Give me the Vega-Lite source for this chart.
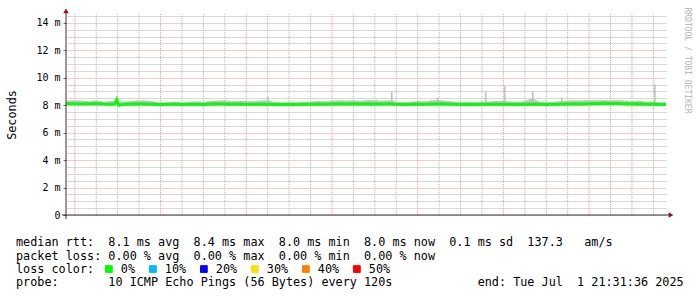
{
  "$schema": "https://vega.github.io/schema/vega-lite/v6.json",
  "width": 600,
  "height": 201,
  "autosize": "none",
  "padding": {"left": 66, "top": 14, "right": 31, "bottom": 82},
  "background": "white",
  "config": {"view": {"stroke": null}, "font": "DejaVu Sans Mono"},
  "title": {
    "text": [
      "median\u00a0rtt:\u00a0\u00a08.1\u00a0ms\u00a0avg\u00a0\u00a08.4\u00a0ms\u00a0max\u00a0\u00a08.0\u00a0ms\u00a0min\u00a0\u00a08.0\u00a0ms\u00a0now\u00a0\u00a00.1\u00a0ms\u00a0sd\u00a0\u00a0137.3\u00a0\u00a0\u00a0am/s",
      "packet\u00a0loss:\u00a00.00\u00a0%\u00a0avg\u00a0\u00a00.00\u00a0%\u00a0max\u00a0\u00a00.00\u00a0%\u00a0min\u00a0\u00a00.00\u00a0%\u00a0now"
    ],
    "subtitle": "probe:\u00a0\u00a0\u00a0\u00a0\u00a0\u00a0\u00a010\u00a0ICMP\u00a0Echo\u00a0Pings\u00a0(56\u00a0Bytes)\u00a0every\u00a0120s\u00a0\u00a0\u00a0\u00a0\u00a0\u00a0\u00a0\u00a0\u00a0\u00a0\u00a0\u00a0end:\u00a0Tue\u00a0Jul\u00a0\u00a01\u00a021:31:36\u00a02025",
    "orient": "bottom",
    "anchor": "start",
    "frame": "group",
    "font": "DejaVu Sans Mono",
    "fontSize": 11.8,
    "fontWeight": "normal",
    "color": "black",
    "lineHeight": 14.3,
    "subtitleFont": "DejaVu Sans Mono",
    "subtitleFontSize": 11.8,
    "subtitleFontWeight": "normal",
    "subtitleColor": "black",
    "subtitleLineHeight": 14.3,
    "subtitlePadding": 14.3,
    "dx": -50,
    "offset": -39,
    "baseline": "top"
  },
  "datasets": {
    "vgrid": [
      {"t": "2025-06-25T00:00:00Z", "kind": "day"},
      {"t": "2025-06-25T06:00:00Z", "kind": "quarter"},
      {"t": "2025-06-25T12:00:00Z", "kind": "quarter"},
      {"t": "2025-06-25T18:00:00Z", "kind": "quarter"},
      {"t": "2025-06-26T00:00:00Z", "kind": "day"},
      {"t": "2025-06-26T06:00:00Z", "kind": "quarter"},
      {"t": "2025-06-26T12:00:00Z", "kind": "quarter"},
      {"t": "2025-06-26T18:00:00Z", "kind": "quarter"},
      {"t": "2025-06-27T00:00:00Z", "kind": "day"},
      {"t": "2025-06-27T06:00:00Z", "kind": "quarter"},
      {"t": "2025-06-27T12:00:00Z", "kind": "quarter"},
      {"t": "2025-06-27T18:00:00Z", "kind": "quarter"},
      {"t": "2025-06-28T00:00:00Z", "kind": "day"},
      {"t": "2025-06-28T06:00:00Z", "kind": "quarter"},
      {"t": "2025-06-28T12:00:00Z", "kind": "quarter"},
      {"t": "2025-06-28T18:00:00Z", "kind": "quarter"},
      {"t": "2025-06-29T00:00:00Z", "kind": "day"},
      {"t": "2025-06-29T06:00:00Z", "kind": "quarter"},
      {"t": "2025-06-29T12:00:00Z", "kind": "quarter"},
      {"t": "2025-06-29T18:00:00Z", "kind": "quarter"},
      {"t": "2025-06-30T00:00:00Z", "kind": "day"},
      {"t": "2025-06-30T06:00:00Z", "kind": "quarter"},
      {"t": "2025-06-30T12:00:00Z", "kind": "quarter"},
      {"t": "2025-06-30T18:00:00Z", "kind": "quarter"},
      {"t": "2025-07-01T00:00:00Z", "kind": "day"},
      {"t": "2025-07-01T06:00:00Z", "kind": "quarter"},
      {"t": "2025-07-01T12:00:00Z", "kind": "quarter"},
      {"t": "2025-07-01T18:00:00Z", "kind": "quarter"}
    ],
    "smoke": [
      {"t": "2025-06-24T21:31:36Z", "med": 8.1, "lo": 7.97, "hi": 8.32, "loss": "0%"},
      {"t": "2025-06-24T22:00:00Z", "med": 8.1, "lo": 7.97, "hi": 8.34, "loss": "0%"},
      {"t": "2025-06-25T00:00:00Z", "med": 8.1, "lo": 7.97, "hi": 8.36, "loss": "0%"},
      {"t": "2025-06-25T02:00:00Z", "med": 8.08, "lo": 7.95, "hi": 8.34, "loss": "0%"},
      {"t": "2025-06-25T04:00:00Z", "med": 8.1, "lo": 7.97, "hi": 8.26, "loss": "0%"},
      {"t": "2025-06-25T06:00:00Z", "med": 8.12, "lo": 7.98, "hi": 8.36, "loss": "0%"},
      {"t": "2025-06-25T08:00:00Z", "med": 8.08, "lo": 7.95, "hi": 8.24, "loss": "0%"},
      {"t": "2025-06-25T10:00:00Z", "med": 8.06, "lo": 7.94, "hi": 8.3, "loss": "0%"},
      {"t": "2025-06-25T11:15:00Z", "med": 8.1, "lo": 7.96, "hi": 8.34, "loss": "0%"},
      {"t": "2025-06-25T11:45:00Z", "med": 8.4, "lo": 8.0, "hi": 8.48, "loss": "0%"},
      {"t": "2025-06-25T12:20:00Z", "med": 8.0, "lo": 7.92, "hi": 8.24, "loss": "0%"},
      {"t": "2025-06-25T14:00:00Z", "med": 8.06, "lo": 7.95, "hi": 8.26, "loss": "0%"},
      {"t": "2025-06-25T16:00:00Z", "med": 8.08, "lo": 7.96, "hi": 8.32, "loss": "0%"},
      {"t": "2025-06-25T18:00:00Z", "med": 8.1, "lo": 7.97, "hi": 8.36, "loss": "0%"},
      {"t": "2025-06-25T20:00:00Z", "med": 8.08, "lo": 7.96, "hi": 8.34, "loss": "0%"},
      {"t": "2025-06-25T22:00:00Z", "med": 8.06, "lo": 7.94, "hi": 8.28, "loss": "0%"},
      {"t": "2025-06-26T00:00:00Z", "med": 8.05, "lo": 7.94, "hi": 8.18, "loss": "0%"},
      {"t": "2025-06-26T02:00:00Z", "med": 8.06, "lo": 7.94, "hi": 8.22, "loss": "0%"},
      {"t": "2025-06-26T04:00:00Z", "med": 8.08, "lo": 7.95, "hi": 8.24, "loss": "0%"},
      {"t": "2025-06-26T06:00:00Z", "med": 8.04, "lo": 7.93, "hi": 8.2, "loss": "0%"},
      {"t": "2025-06-26T08:00:00Z", "med": 8.06, "lo": 7.94, "hi": 8.24, "loss": "0%"},
      {"t": "2025-06-26T10:00:00Z", "med": 8.07, "lo": 7.95, "hi": 8.28, "loss": "0%"},
      {"t": "2025-06-26T12:00:00Z", "med": 8.05, "lo": 7.94, "hi": 8.24, "loss": "0%"},
      {"t": "2025-06-26T14:00:00Z", "med": 8.08, "lo": 7.96, "hi": 8.32, "loss": "0%"},
      {"t": "2025-06-26T16:00:00Z", "med": 8.1, "lo": 7.97, "hi": 8.34, "loss": "0%"},
      {"t": "2025-06-26T18:00:00Z", "med": 8.08, "lo": 7.96, "hi": 8.36, "loss": "0%"},
      {"t": "2025-06-26T20:00:00Z", "med": 8.06, "lo": 7.95, "hi": 8.3, "loss": "0%"},
      {"t": "2025-06-26T22:00:00Z", "med": 8.08, "lo": 7.96, "hi": 8.33, "loss": "0%"},
      {"t": "2025-06-27T00:00:00Z", "med": 8.07, "lo": 7.95, "hi": 8.3, "loss": "0%"},
      {"t": "2025-06-27T02:00:00Z", "med": 8.06, "lo": 7.94, "hi": 8.29, "loss": "0%"},
      {"t": "2025-06-27T04:00:00Z", "med": 8.08, "lo": 7.95, "hi": 8.34, "loss": "0%"},
      {"t": "2025-06-27T06:00:00Z", "med": 8.07, "lo": 7.95, "hi": 8.36, "loss": "0%"},
      {"t": "2025-06-27T08:00:00Z", "med": 8.05, "lo": 7.94, "hi": 8.24, "loss": "0%"},
      {"t": "2025-06-27T10:00:00Z", "med": 8.04, "lo": 7.93, "hi": 8.2, "loss": "0%"},
      {"t": "2025-06-27T12:00:00Z", "med": 8.06, "lo": 7.94, "hi": 8.22, "loss": "0%"},
      {"t": "2025-06-27T14:00:00Z", "med": 8.05, "lo": 7.94, "hi": 8.21, "loss": "0%"},
      {"t": "2025-06-27T16:00:00Z", "med": 8.07, "lo": 7.95, "hi": 8.24, "loss": "0%"},
      {"t": "2025-06-27T18:00:00Z", "med": 8.06, "lo": 7.94, "hi": 8.27, "loss": "0%"},
      {"t": "2025-06-27T20:00:00Z", "med": 8.08, "lo": 7.96, "hi": 8.3, "loss": "0%"},
      {"t": "2025-06-27T22:00:00Z", "med": 8.07, "lo": 7.95, "hi": 8.29, "loss": "0%"},
      {"t": "2025-06-28T00:00:00Z", "med": 8.08, "lo": 7.96, "hi": 8.34, "loss": "0%"},
      {"t": "2025-06-28T02:00:00Z", "med": 8.1, "lo": 7.97, "hi": 8.36, "loss": "0%"},
      {"t": "2025-06-28T04:00:00Z", "med": 8.09, "lo": 7.96, "hi": 8.34, "loss": "0%"},
      {"t": "2025-06-28T06:00:00Z", "med": 8.1, "lo": 7.97, "hi": 8.36, "loss": "0%"},
      {"t": "2025-06-28T08:00:00Z", "med": 8.08, "lo": 7.96, "hi": 8.32, "loss": "0%"},
      {"t": "2025-06-28T10:00:00Z", "med": 8.1, "lo": 7.97, "hi": 8.38, "loss": "0%"},
      {"t": "2025-06-28T12:00:00Z", "med": 8.09, "lo": 7.96, "hi": 8.36, "loss": "0%"},
      {"t": "2025-06-28T14:00:00Z", "med": 8.08, "lo": 7.95, "hi": 8.33, "loss": "0%"},
      {"t": "2025-06-28T16:00:00Z", "med": 8.1, "lo": 7.97, "hi": 8.36, "loss": "0%"},
      {"t": "2025-06-28T18:00:00Z", "med": 8.06, "lo": 7.94, "hi": 8.27, "loss": "0%"},
      {"t": "2025-06-28T20:00:00Z", "med": 8.05, "lo": 7.94, "hi": 8.22, "loss": "0%"},
      {"t": "2025-06-28T22:00:00Z", "med": 8.07, "lo": 7.95, "hi": 8.25, "loss": "0%"},
      {"t": "2025-06-29T00:00:00Z", "med": 8.08, "lo": 7.96, "hi": 8.3, "loss": "0%"},
      {"t": "2025-06-29T02:00:00Z", "med": 8.07, "lo": 7.95, "hi": 8.29, "loss": "0%"},
      {"t": "2025-06-29T04:00:00Z", "med": 8.09, "lo": 7.96, "hi": 8.36, "loss": "0%"},
      {"t": "2025-06-29T06:00:00Z", "med": 8.1, "lo": 7.97, "hi": 8.38, "loss": "0%"},
      {"t": "2025-06-29T08:00:00Z", "med": 8.08, "lo": 7.96, "hi": 8.32, "loss": "0%"},
      {"t": "2025-06-29T10:00:00Z", "med": 8.07, "lo": 7.95, "hi": 8.27, "loss": "0%"},
      {"t": "2025-06-29T12:00:00Z", "med": 8.05, "lo": 7.94, "hi": 8.22, "loss": "0%"},
      {"t": "2025-06-29T14:00:00Z", "med": 8.06, "lo": 7.94, "hi": 8.24, "loss": "0%"},
      {"t": "2025-06-29T16:00:00Z", "med": 8.05, "lo": 7.93, "hi": 8.23, "loss": "0%"},
      {"t": "2025-06-29T18:00:00Z", "med": 8.07, "lo": 7.95, "hi": 8.27, "loss": "0%"},
      {"t": "2025-06-29T20:00:00Z", "med": 8.06, "lo": 7.94, "hi": 8.24, "loss": "0%"},
      {"t": "2025-06-29T22:00:00Z", "med": 8.08, "lo": 7.96, "hi": 8.32, "loss": "0%"},
      {"t": "2025-06-30T00:00:00Z", "med": 8.07, "lo": 7.95, "hi": 8.3, "loss": "0%"},
      {"t": "2025-06-30T02:00:00Z", "med": 8.06, "lo": 7.94, "hi": 8.27, "loss": "0%"},
      {"t": "2025-06-30T04:00:00Z", "med": 8.05, "lo": 7.94, "hi": 8.24, "loss": "0%"},
      {"t": "2025-06-30T06:00:00Z", "med": 8.07, "lo": 7.95, "hi": 8.3, "loss": "0%"},
      {"t": "2025-06-30T08:00:00Z", "med": 8.08, "lo": 7.96, "hi": 8.5, "loss": "0%"},
      {"t": "2025-06-30T10:00:00Z", "med": 8.06, "lo": 7.94, "hi": 8.27, "loss": "0%"},
      {"t": "2025-06-30T12:00:00Z", "med": 8.05, "lo": 7.93, "hi": 8.22, "loss": "0%"},
      {"t": "2025-06-30T14:00:00Z", "med": 8.06, "lo": 7.94, "hi": 8.24, "loss": "0%"},
      {"t": "2025-06-30T16:00:00Z", "med": 8.07, "lo": 7.95, "hi": 8.3, "loss": "0%"},
      {"t": "2025-06-30T18:00:00Z", "med": 8.08, "lo": 7.96, "hi": 8.34, "loss": "0%"},
      {"t": "2025-06-30T20:00:00Z", "med": 8.1, "lo": 7.97, "hi": 8.36, "loss": "0%"},
      {"t": "2025-06-30T22:00:00Z", "med": 8.09, "lo": 7.96, "hi": 8.36, "loss": "0%"},
      {"t": "2025-07-01T00:00:00Z", "med": 8.1, "lo": 7.97, "hi": 8.38, "loss": "0%"},
      {"t": "2025-07-01T02:00:00Z", "med": 8.12, "lo": 7.98, "hi": 8.36, "loss": "0%"},
      {"t": "2025-07-01T04:00:00Z", "med": 8.14, "lo": 7.99, "hi": 8.38, "loss": "0%"},
      {"t": "2025-07-01T06:00:00Z", "med": 8.12, "lo": 7.98, "hi": 8.36, "loss": "0%"},
      {"t": "2025-07-01T08:00:00Z", "med": 8.13, "lo": 7.99, "hi": 8.38, "loss": "0%"},
      {"t": "2025-07-01T10:00:00Z", "med": 8.1, "lo": 7.97, "hi": 8.34, "loss": "0%"},
      {"t": "2025-07-01T12:00:00Z", "med": 8.08, "lo": 7.96, "hi": 8.3, "loss": "0%"},
      {"t": "2025-07-01T14:00:00Z", "med": 8.1, "lo": 7.97, "hi": 8.34, "loss": "0%"},
      {"t": "2025-07-01T16:00:00Z", "med": 8.06, "lo": 7.94, "hi": 8.24, "loss": "0%"},
      {"t": "2025-07-01T18:00:00Z", "med": 8.08, "lo": 7.95, "hi": 8.27, "loss": "0%"},
      {"t": "2025-07-01T20:00:00Z", "med": 8.05, "lo": 7.94, "hi": 8.22, "loss": "0%"},
      {"t": "2025-07-01T21:31:36Z", "med": 8.05, "lo": 7.94, "hi": 8.22, "loss": "0%"}
    ],
    "spikes": [
      {"t": "2025-06-27T06:02:00Z", "lo": 8.2, "hi": 8.6},
      {"t": "2025-06-28T12:27:00Z", "lo": 8.2, "hi": 8.4},
      {"t": "2025-06-28T16:45:00Z", "lo": 8.2, "hi": 9.0},
      {"t": "2025-06-29T05:37:00Z", "lo": 8.2, "hi": 8.55},
      {"t": "2025-06-29T19:03:00Z", "lo": 8.2, "hi": 9.0},
      {"t": "2025-06-30T00:25:00Z", "lo": 8.2, "hi": 9.4},
      {"t": "2025-06-30T08:13:00Z", "lo": 8.2, "hi": 9.0},
      {"t": "2025-06-30T16:20:00Z", "lo": 8.2, "hi": 8.55},
      {"t": "2025-07-01T18:25:00Z", "lo": 8.2, "hi": 9.5}
    ],
    "axislines": [
      {"t": "2025-06-24T20:24:56Z", "t2": "2025-07-01T22:21:36Z", "y": 0, "y2": 0},
      {"t": "2025-06-24T21:31:36Z", "t2": "2025-06-24T21:31:36Z", "y": -0.3, "y2": 14.8}
    ],
    "arrows": [
      {"t": "2025-07-01T22:55:36Z", "y": 0, "shape": "triangle-right"},
      {"t": "2025-06-24T21:31:36Z", "y": 14.86, "shape": "triangle-up"}
    ]
  },
  "layer": [
    {
      "data": {"name": "vgrid"},
      "transform": [{"filter": "datum.kind == 'quarter'"}],
      "mark": {"type": "rule", "strokeDash": [1, 1], "strokeWidth": 1, "color": "#b4b4b4"},
      "encoding": {
        "x": {
          "field": "t",
          "type": "temporal",
          "scale": {"type": "utc", "domain": [1750800696000, 1751405496000], "nice": false},
          "axis": {
            "values": [1750852800000, 1750939200000, 1751025600000, 1751112000000, 1751198400000, 1751284800000, 1751371200000],
            "labelExpr": "utcFormat(datum.value, '%a %d %b')",
            "labelFont": "DejaVu Sans Mono",
            "labelFontSize": 10,
            "labelColor": "black",
            "labelPadding": 4,
            "labelFlush": false,
            "labelOverlap": false,
            "labelAngle": 0,
            "ticks": false,
            "domain": false,
            "grid": false,
            "title": null
          }
        }
      }
    },
    {
      "data": {"name": "vgrid"},
      "transform": [{"filter": "datum.kind == 'day'"}],
      "mark": {"type": "rule", "strokeDash": [1, 1], "strokeWidth": 1, "color": "#ec9a9a"},
      "encoding": {
        "x": {"field": "t", "type": "temporal", "axis": null}
      }
    },
    {
      "data": {"name": "smoke"},
      "mark": {"type": "area", "color": "#c4c4c4"},
      "encoding": {
        "x": {"field": "t", "type": "temporal", "axis": null},
        "y": {
          "field": "hi",
          "type": "quantitative",
          "scale": {"domain": [0, 14.64], "nice": false, "zero": true},
          "axis": {
            "values": [0, 2, 4, 6, 8, 10, 12, 14],
            "labelExpr": "datum.value == 0 ? '0\u00a0\u00a0' : datum.value + ' m'",
            "labelFont": "DejaVu Sans Mono",
            "labelFontSize": 10,
            "labelColor": "black",
            "labelPadding": 3,
            "labelOverlap": false,
            "labelFlush": false,
            "ticks": true,
            "tickSize": 3,
            "tickColor": "#666666",
            "domain": false,
            "grid": true,
            "gridColor": "#ec9a9a",
            "gridDash": [1, 1],
            "gridWidth": 1,
            "title": "Seconds",
            "titleFont": "DejaVu Sans Mono",
            "titleFontSize": 11.8,
            "titleFontWeight": "normal",
            "titleColor": "black",
            "titleAngle": 270,
            "titleX": -55,
            "titleY": 100.5,
            "titleAlign": "center",
            "titleBaseline": "middle"
          }
        },
        "y2": {"field": "lo"}
      }
    },
    {
      "data": {"name": "spikes"},
      "mark": {"type": "rule", "color": "#bdbdbd", "strokeWidth": 1.5},
      "encoding": {
        "x": {"field": "t", "type": "temporal", "axis": null},
        "y": {
          "field": "hi",
          "type": "quantitative",
          "axis": {
            "orient": "right",
            "values": [0.5, 1, 1.5, 2.5, 3, 3.5, 4.5, 5, 5.5, 6.5, 7, 7.5, 8.5, 9, 9.5, 10.5, 11, 11.5, 12.5, 13, 13.5, 14.5],
            "domain": false,
            "ticks": false,
            "labels": false,
            "grid": true,
            "gridColor": "#b0b0b0",
            "gridDash": [1, 1],
            "gridWidth": 1,
            "title": "RRDTOOL / TOBI OETIKER",
            "titleFont": "DejaVu Sans Mono",
            "titleFontSize": 8,
            "titleFontWeight": "normal",
            "titleColor": "#b4b4b4",
            "titleAngle": 90,
            "titleX": 20,
            "titleY": 46,
            "titleAlign": "center",
            "titleBaseline": "middle"
          }
        },
        "y2": {"field": "lo"}
      }
    },
    {
      "data": {"name": "smoke"},
      "mark": {"type": "line", "strokeWidth": 3},
      "encoding": {
        "x": {"field": "t", "type": "temporal", "axis": null},
        "y": {"field": "med", "type": "quantitative", "axis": null},
        "color": {
          "field": "loss",
          "type": "nominal",
          "scale": {"domain": ["0%", "10%", "20%", "30%", "40%", "50%"], "range": ["#00ff00", "#00b8ff", "#0000ff", "#ffe000", "#ff8000", "#ff0000"]},
          "legend": {
            "title": "loss color:",
            "orient": "none",
            "legendX": -50,
            "legendY": 249,
            "direction": "horizontal",
            "titleOrient": "left",
            "titleFont": "DejaVu Sans Mono",
            "titleFontSize": 11.8,
            "titleFontWeight": "normal",
            "titleColor": "black",
            "titlePadding": 8,
            "symbolType": "square",
            "symbolSize": 45,
            "symbolStrokeWidth": 1,
            "symbolStrokeColor": "black",
            "labelFont": "DejaVu Sans Mono",
            "labelFontSize": 11.8,
            "labelColor": "black",
            "labelOffset": 6,
            "columnPadding": 11,
            "encode": {"symbols": {"update": {"fill": {"scale": "color", "field": "value"}, "stroke": {"value": "black"}, "fillOpacity": {"value": 1}, "strokeWidth": {"value": 1}}}}
          }
        }
      }
    },
    {
      "data": {"name": "axislines"},
      "mark": {"type": "rule", "color": "#333333", "strokeWidth": 1},
      "encoding": {
        "x": {"field": "t", "type": "temporal", "axis": null},
        "x2": {"field": "t2"},
        "y": {"field": "y", "type": "quantitative", "axis": null},
        "y2": {"field": "y2"}
      }
    },
    {
      "data": {"name": "arrows"},
      "mark": {"type": "point", "filled": true, "color": "#a01010", "size": 30, "opacity": 1},
      "encoding": {
        "x": {"field": "t", "type": "temporal", "axis": null},
        "y": {"field": "y", "type": "quantitative", "axis": null},
        "shape": {"field": "shape", "type": "nominal", "scale": null}
      }
    }
  ],
  "resolve": {"axis": {"y": "independent"}}
}
